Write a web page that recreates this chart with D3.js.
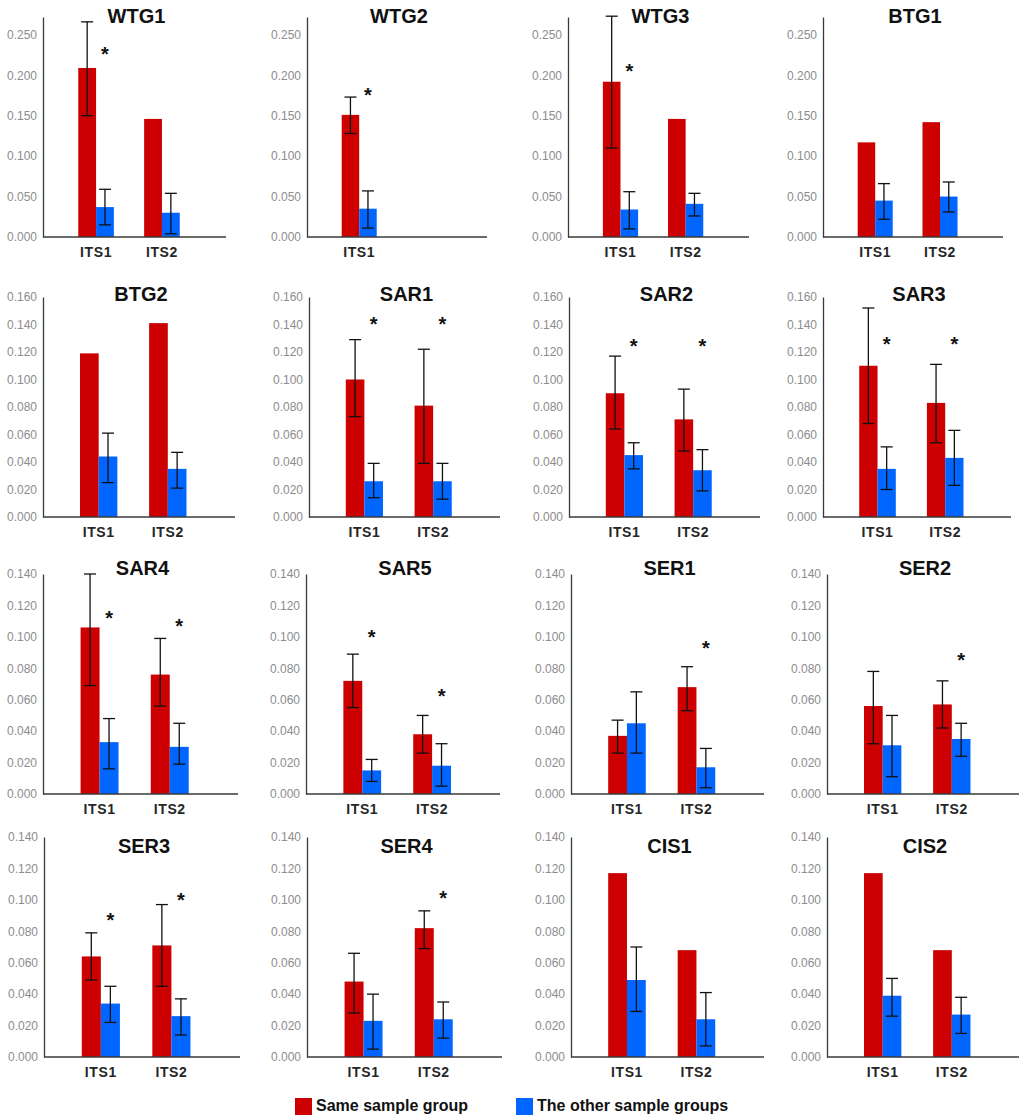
<!DOCTYPE html>
<html>
<head>
<meta charset="utf-8">
<script src="https://cdn.jsdelivr.net/npm/d3@7"></script>
<style>
  body { margin: 0; background: #fff; }
  svg { display: block; font-family: "Liberation Sans", Arial, sans-serif; }
</style>
</head>
<body>
<svg id="chart" width="1024" height="1120"></svg>
<script>
// panel names, read left to right, top to bottom
const panels = ["WTG1", "WTG2", "WTG3", "BTG1", "BTG2", "SAR1", "SAR2", "SAR3",
                "SAR4", "SAR5", "SER1", "SER2", "SER3", "SER4", "CIS1", "CIS2"];
const categories = ["ITS1", "ITS2"];
const seriesNames = ["Same sample group", "The other sample groups"];

// "Same sample group" means for [ITS1, ITS2]
const sameMean = [
  [0.209, 0.146], [0.151, null], [0.192, 0.146], [0.117, 0.142],
  [0.119, 0.141], [0.100, 0.081], [0.090, 0.071], [0.110, 0.083],
  [0.106, 0.076], [0.072, 0.038], [0.037, 0.068], [0.056, 0.057],
  [0.064, 0.071], [0.048, 0.082], [0.117, 0.068], [0.117, 0.068]
];
// error bar [low, high], null = no bar
const sameErr = [
  [[0.150, 0.266], null], [[0.128, 0.173], null], [[0.110, 0.273], null], [null, null],
  [null, null], [[0.073, 0.129], [0.039, 0.122]], [[0.064, 0.117], [0.048, 0.093]], [[0.068, 0.152], [0.054, 0.111]],
  [[0.069, 0.140], [0.056, 0.099]], [[0.055, 0.089], [0.026, 0.050]], [[0.026, 0.047], [0.053, 0.081]], [[0.032, 0.078], [0.042, 0.072]],
  [[0.049, 0.079], [0.045, 0.097]], [[0.028, 0.066], [0.069, 0.093]], [null, null], [null, null]
];
// "The other sample groups" means
const otherMean = [
  [0.037, 0.030], [0.035, null], [0.034, 0.041], [0.045, 0.050],
  [0.044, 0.035], [0.026, 0.026], [0.045, 0.034], [0.035, 0.043],
  [0.033, 0.030], [0.015, 0.018], [0.045, 0.017], [0.031, 0.035],
  [0.034, 0.026], [0.023, 0.024], [0.049, 0.024], [0.039, 0.027]
];
const otherErr = [
  [[0.015, 0.059], [0.004, 0.054]], [[0.011, 0.057], null], [[0.010, 0.056], [0.026, 0.054]], [[0.022, 0.066], [0.031, 0.068]],
  [[0.025, 0.061], [0.021, 0.047]], [[0.014, 0.039], [0.013, 0.039]], [[0.035, 0.054], [0.019, 0.049]], [[0.020, 0.051], [0.023, 0.063]],
  [[0.016, 0.048], [0.019, 0.045]], [[0.008, 0.022], [0.005, 0.032]], [[0.026, 0.065], [0.004, 0.029]], [[0.011, 0.050], [0.024, 0.045]],
  [[0.022, 0.045], [0.014, 0.037]], [[0.005, 0.040], [0.012, 0.035]], [[0.029, 0.070], [0.007, 0.041]], [[0.026, 0.050], [0.015, 0.038]]
];
// value level of the significance asterisk, null = none
const sigLevel = [
  [0.232, null], [0.181, null], [0.211, null], [null, null],
  [null, null], [0.1435, 0.1435], [0.128, 0.128], [0.129, 0.129],
  [0.115, 0.110], [0.103, 0.065], [null, 0.096], [null, 0.088],
  [0.090, 0.103], [null, 0.104], [null, null], [null, null]
];
// y axis per row
const rowMax = [0.272, 0.16, 0.14, 0.14];
const rowTicks = [
  [0, 0.05, 0.10, 0.15, 0.20, 0.25],
  [0, 0.02, 0.04, 0.06, 0.08, 0.10, 0.12, 0.14, 0.16],
  [0, 0.02, 0.04, 0.06, 0.08, 0.10, 0.12, 0.14],
  [0, 0.02, 0.04, 0.06, 0.08, 0.10, 0.12, 0.14]
];

// layout
const rowBase = [237, 517, 794, 1057];
const rowTitle = [23, 301, 575, 853];
const plotH = 220;
const frames = [ // [x0, x1] of each panel's axes, by row
  [[43, 226], [307, 487], [568, 749], [823, 1003]],
  [[43, 235], [309, 500], [569, 760], [823, 1011]],
  [[43, 238], [306, 500], [571, 764], [827, 1019]],
  [[44, 240], [307, 502], [571, 764], [827, 1019]]
];
const colors = ["#cc0000", "#0066ff"];
const fmt = d3.format(".3f");

const svg = d3.select("#chart");

panels.forEach((name, i) => {
  const row = Math.floor(i / 4), col = i % 4;
  const [x0, x1] = frames[row][col];
  const w = x1 - x0;
  const g = svg.append("g").attr("transform", `translate(${x0},${rowBase[row] - plotH})`);

  const y = d3.scaleLinear().domain([0, rowMax[row]]).range([plotH, 0]);
  const x = d3.scaleBand().domain(categories).range([w * 0.11, w * 0.83]);
  const xs = d3.scaleBand().domain([0, 1]).range([0, x.step()]).paddingOuter(0.85);

  const rows = categories.map((c, k) => ({
    cat: c,
    vals: [sameMean[i][k], otherMean[i][k]],
    errs: [sameErr[i][k], otherErr[i][k]],
    sig: sigLevel[i][k]
  })).filter(d => d.vals[0] != null);

  // y axis
  const ya = g.append("g")
    .call(d3.axisLeft(y).tickValues(rowTicks[row]).tickFormat(fmt).tickSize(0).tickPadding(6));
  ya.select(".domain").attr("stroke", "#3a3a3a").attr("stroke-width", 1.3);
  ya.selectAll("text").attr("fill", "#8c8c8c").style("font-size", "12px");

  // x axis
  const xa = g.append("g").attr("transform", `translate(0,${plotH})`)
    .call(d3.axisBottom(x).tickValues(rows.map(d => d.cat)).tickSize(0).tickPadding(10));
  xa.select(".domain").remove();
  xa.selectAll("text").attr("fill", "#262626")
    .style("font-size", "14px").style("font-weight", "bold").style("letter-spacing", "0.6px");

  // bars
  const grp = g.selectAll(".grp").data(rows).join("g")
    .attr("transform", d => `translate(${x(d.cat)},0)`);
  grp.selectAll("rect").data(d => d.vals.map((v, s) => ({ v, s }))).join("rect")
    .attr("x", d => xs(d.s))
    .attr("width", xs.bandwidth())
    .attr("y", d => y(d.v))
    .attr("height", d => plotH - y(d.v))
    .attr("fill", d => colors[d.s]);

  // error bars
  const eb = grp.selectAll(".err").data(d => d.errs.map((e, s) => ({ e, s })).filter(d => d.e))
    .join("g").attr("class", "err")
    .attr("transform", d => `translate(${xs(d.s) + xs.bandwidth() / 2},0)`)
    .attr("stroke", "#111").attr("stroke-width", 1.3);
  eb.append("line").attr("y1", d => y(d.e[0])).attr("y2", d => y(d.e[1]));
  eb.append("line").attr("x1", -6).attr("x2", 6).attr("y1", d => y(d.e[0])).attr("y2", d => y(d.e[0]));
  eb.append("line").attr("x1", -6).attr("x2", 6).attr("y1", d => y(d.e[1])).attr("y2", d => y(d.e[1]));

  // asterisks
  grp.filter(d => d.sig != null).append("text")
    .attr("x", xs(1) + xs.bandwidth() / 2)
    .attr("y", d => y(d.sig) + 11.5)
    .attr("text-anchor", "middle")
    .style("font-size", "20px").style("font-weight", "bold").attr("fill", "#111")
    .text("*");

  // bottom line
  g.append("line").attr("x1", 0).attr("x2", w).attr("y1", plotH).attr("y2", plotH)
    .attr("stroke", "#3a3a3a").attr("stroke-width", 1.3);

  // title
  svg.append("text")
    .attr("x", x0 + w / 2 + 2).attr("y", rowTitle[row])
    .attr("text-anchor", "middle")
    .style("font-size", "20px").style("font-weight", "bold").attr("fill", "#111")
    .text(name);
});

// legend
const legendX = [295, 516];
const lg = svg.append("g").selectAll("g").data(seriesNames).join("g")
  .attr("transform", (d, k) => `translate(${legendX[k]},1098)`);
lg.append("rect").attr("width", 17).attr("height", 17).attr("fill", (d, k) => colors[k]);
lg.append("text").attr("x", 21).attr("y", 13)
  .style("font-size", "16px").style("font-weight", "bold").attr("fill", "#111")
  .text(d => d);
</script>
</body>
</html>
